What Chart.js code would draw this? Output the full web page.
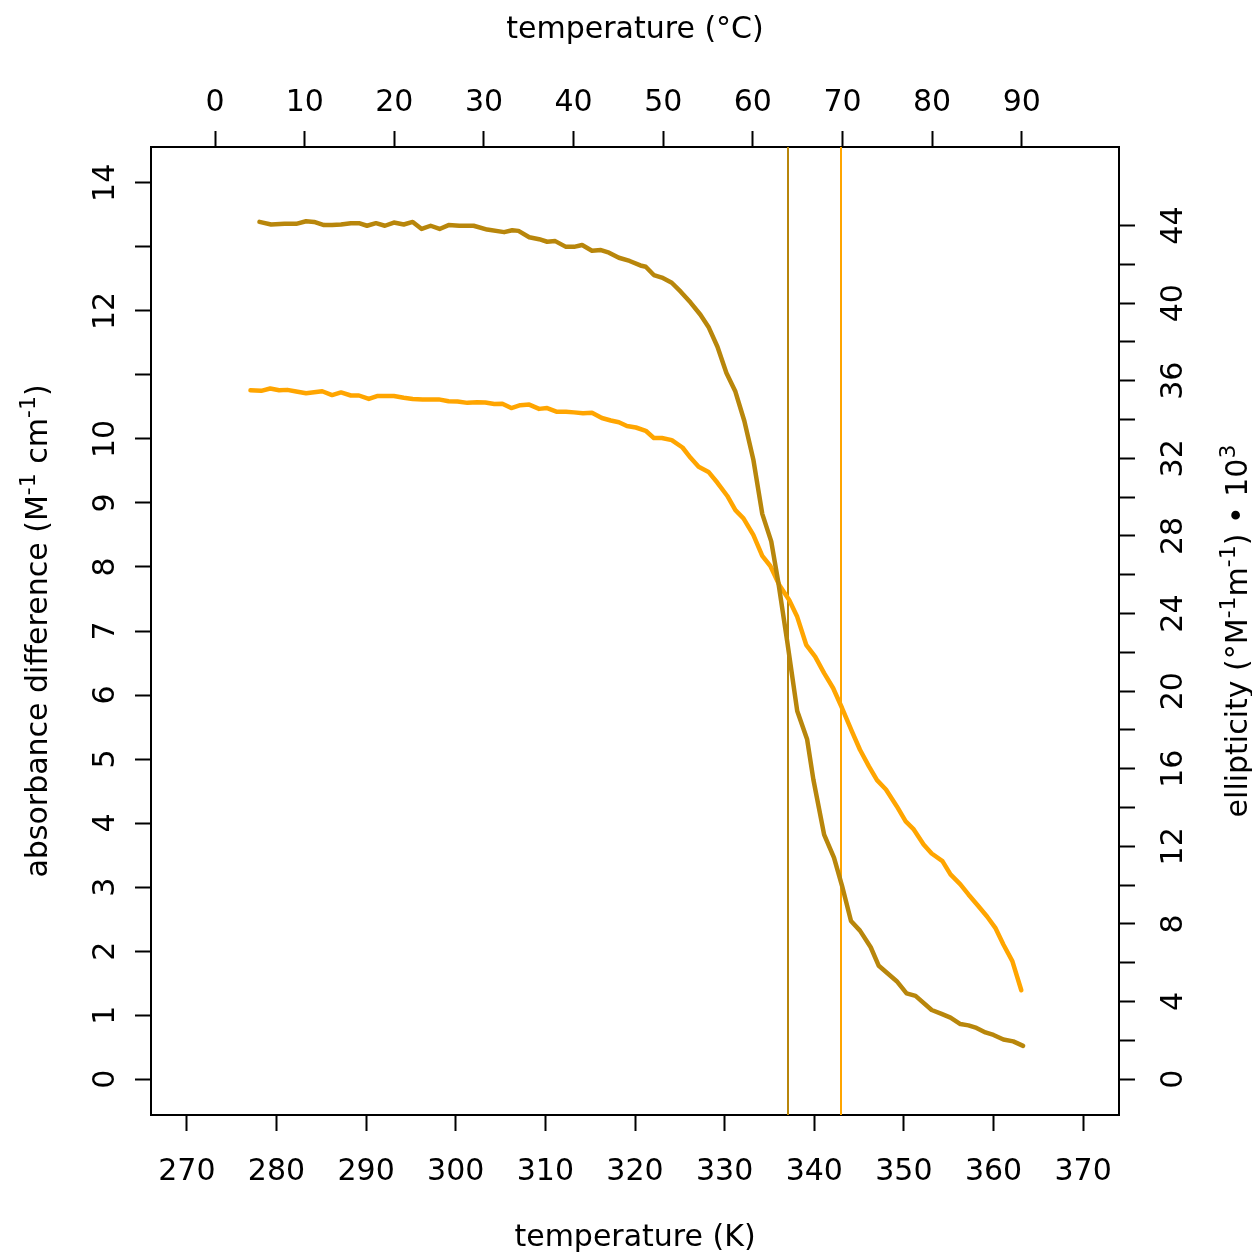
<!DOCTYPE html>
<html>
<head>
<meta charset="utf-8">
<script src="https://cdn.jsdelivr.net/npm/chart.js@4.4.1/dist/chart.umd.min.js"></script>
<style>
  html, body { margin: 0; padding: 0; background: #fff; }
  #chart { display: block; }
</style>
</head>
<body>
<canvas id="chart" width="1252" height="1253"></canvas>
<script>
// absorbance difference (left axis)
const absTemp = [278.1, 279.4, 280.9, 282.2, 283.3, 284.2, 285.3, 286.2, 287.2, 288.3, 289.2, 290.1, 291.1, 292.1, 293.1,
    294.2, 295.2, 296.2, 297.2, 298.2, 299.2, 300.4, 302.0, 303.5, 305.4, 306.3, 307.0, 308.2, 309.3, 310.2, 311.1, 312.3,
    313.2, 314.1, 315.2, 316.2, 317.1, 318.2, 319.4, 320.6, 321.2, 322.1, 323.0, 324.1, 325.1, 326.2, 327.3, 328.2, 329.2,
    330.2, 331.2, 332.2, 333.2, 334.2, 335.2, 336.0, 337.0, 338.1, 339.2, 339.9, 341.1, 342.2, 343.1, 344.1, 345.1, 346.3,
    347.2, 348.2, 349.2, 350.3, 351.3, 353.1, 354.2, 355.2, 356.3, 357.2, 358.1, 359.1, 360.0, 361.1, 362.2, 363.3];
const absValues = [13.39, 13.35, 13.36, 13.36, 13.40, 13.39, 13.34, 13.34, 13.35, 13.37, 13.37, 13.33, 13.37, 13.33, 13.38,
    13.35, 13.39, 13.28, 13.33, 13.28, 13.34, 13.33, 13.33, 13.27, 13.23, 13.26, 13.25, 13.15, 13.12, 13.08, 13.09, 13.00,
    13.00, 13.03, 12.94, 12.95, 12.91, 12.83, 12.78, 12.71, 12.69, 12.56, 12.52, 12.44, 12.30, 12.13, 11.94, 11.75, 11.44,
    11.03, 10.74, 10.28, 9.68, 8.83, 8.40, 7.75, 6.82, 5.75, 5.31, 4.68, 3.82, 3.46, 3.02, 2.47, 2.32, 2.06,
    1.77, 1.65, 1.53, 1.34, 1.30, 1.08, 1.02, 0.96, 0.86, 0.84, 0.80, 0.73, 0.69, 0.62, 0.59, 0.52];

// ellipticity (right axis)
const cdTemp = [277.1, 278.3, 279.3, 280.3, 281.2, 282.2, 283.3, 284.2, 285.1, 286.2, 287.2, 288.3, 289.2, 290.3, 291.3,
    293.1, 294.2, 295.2, 296.3, 298.1, 299.2, 300.2, 301.3, 302.4, 303.3, 304.3, 305.2, 306.2, 307.2, 308.2, 309.3, 310.2,
    311.3, 312.3, 313.2, 314.2, 315.2, 316.3, 317.3, 318.2, 319.1, 320.1, 321.2, 322.1, 323.0, 324.1, 325.3, 326.2, 327.1,
    328.2, 329.2, 330.3, 331.2, 332.1, 333.2, 334.2, 335.1, 336.1, 337.2, 338.1, 339.1, 340.1, 341.1, 342.1, 343.1, 344.2,
    345.1, 346.1, 347.0, 348.0, 349.2, 350.2, 351.1, 352.2, 353.1, 354.3, 355.2, 356.3, 357.2, 358.3, 359.3, 360.2, 361.1,
    362.1, 363.1];
const cdValues = [35.51, 35.48, 35.60, 35.51, 35.53, 35.45, 35.36, 35.41, 35.46, 35.26, 35.40, 35.24, 35.24, 35.06, 35.22,
    35.21, 35.12, 35.06, 35.03, 35.04, 34.94, 34.93, 34.86, 34.89, 34.88, 34.80, 34.82, 34.59, 34.74, 34.77, 34.55, 34.59,
    34.40, 34.40, 34.37, 34.33, 34.35, 34.08, 33.95, 33.86, 33.67, 33.59, 33.42, 33.05, 33.05, 32.94, 32.56, 32.03, 31.57,
    31.30, 30.74, 30.06, 29.33, 28.91, 28.05, 26.97, 26.45, 25.47, 24.70, 23.83, 22.39, 21.78, 20.93, 20.16, 19.13, 17.92,
    16.98, 16.12, 15.41, 14.93, 14.07, 13.29, 12.87, 12.10, 11.63, 11.24, 10.55, 10.04, 9.52, 8.92, 8.37, 7.80, 6.94,
    6.08, 4.58];

// melting temperatures (vertical marks)
const meltTemps = [337.1, 343.0];

const kelvinTicks = [270, 280, 290, 300, 310, 320, 330, 340, 350, 360, 370];
const celsiusTicks = [0, 10, 20, 30, 40, 50, 60, 70, 80, 90];
const absTicks = [0, 1, 2, 3, 4, 5, 6, 7, 8, 9, 10, 11, 12, 13, 14];
const absTickLabels = [0, 1, 2, 3, 4, 5, 6, 7, 8, 9, 10, 12, 14];
const cdTicks = [0, 2, 4, 6, 8, 10, 12, 14, 16, 18, 20, 22, 24, 26, 28, 30, 32, 34, 36, 38, 40, 42, 44];
const cdTickLabels = [0, 4, 8, 12, 16, 20, 24, 28, 32, 36, 40, 44];

const GOLD = '#B8860B';
const ORANGE = '#FFA500';
const FAMILY = '"DejaVu Sans", sans-serif';
const FS = 30;
const KELVIN = 273.15;

const zip = (xs, ys) => xs.map((x, i) => ({ x: x, y: ys[i] }));

function frameAxis(position, ticks, size, extra) {
    const horiz = position === 'top' || position === 'bottom';
    return Object.assign({
        type: 'linear',
        position: position,
        grid: { display: true, drawOnChartArea: false, drawTicks: true, tickLength: 16, tickWidth: 2, tickColor: '#000' },
        border: { display: true, color: '#000', width: 2 },
        ticks: { display: horiz, color: '#000', font: { family: FAMILY, size: FS }, autoSkip: false, maxRotation: 0, minRotation: 0,
                 padding: position === 'top' ? 10 : 23 },
        afterBuildTicks: axis => { axis.ticks = ticks.map(v => ({ value: v })); },
        afterFit: axis => { if (horiz) axis.height = size; else axis.width = size; }
    }, extra);
}

// text pieces, some of them superscript, drawn reading upwards
function drawRotated(ctx, pieces, bx, cy) {
    const sup = `${Math.round(FS * 0.72)}px ${FAMILY}`;
    const reg = `${FS}px ${FAMILY}`;
    let total = 0;
    pieces.forEach(p => { ctx.font = p.sup ? sup : reg; p.w = ctx.measureText(p.t).width; total += p.w; });
    ctx.save();
    ctx.translate(bx, cy);
    ctx.rotate(-Math.PI / 2);
    ctx.textAlign = 'left';
    ctx.textBaseline = 'alphabetic';
    let x = -total / 2;
    pieces.forEach(p => {
        ctx.font = p.sup ? sup : reg;
        ctx.fillText(p.t, x, p.sup ? -12 : 0);
        x += p.w;
    });
    ctx.restore();
}

const framePlugin = {
    id: 'framePlugin',
    beforeDatasetsDraw(chart) {
        const ctx = chart.ctx;
        const area = chart.chartArea;
        const xs = chart.scales.x;
        const colors = [GOLD, ORANGE];
        ctx.save();
        meltTemps.forEach((t, i) => {
            const px = Math.round(xs.getPixelForValue(t));
            ctx.beginPath();
            ctx.moveTo(px, area.top);
            ctx.lineTo(px, area.bottom);
            ctx.lineWidth = 2;
            ctx.strokeStyle = colors[i];
            ctx.stroke();
        });
        ctx.restore();
    },
    afterDraw(chart) {
        const ctx = chart.ctx;
        const area = chart.chartArea;
        const yl = chart.scales.y, yr = chart.scales.y2;
        ctx.save();
        ctx.fillStyle = '#000';
        absTickLabels.forEach(v => drawRotated(ctx, [{ t: String(v) }], area.left - 37, yl.getPixelForValue(v)));
        cdTickLabels.forEach(v => drawRotated(ctx, [{ t: String(v) }], area.right + 63, yr.getPixelForValue(v)));
        const midY = (area.top + area.bottom) / 2;
        drawRotated(ctx, [
            { t: 'absorbance difference (M' }, { t: '-1', sup: true }, { t: ' cm' }, { t: '-1', sup: true }, { t: ')' }
        ], 47, midY);
        drawRotated(ctx, [
            { t: 'ellipticity (\u00B0M' }, { t: '-1', sup: true }, { t: 'm' }, { t: '-1', sup: true },
            { t: ') \u2022 10' }, { t: '3', sup: true }
        ], 1247, midY);
        ctx.restore();
    }
};

new Chart(document.getElementById('chart'), {
    type: 'line',
    data: {
        datasets: [
            { data: zip(absTemp, absValues), xAxisID: 'x', yAxisID: 'y', borderColor: GOLD, borderWidth: 4.5,
              pointRadius: 0, tension: 0, borderJoinStyle: 'round', borderCapStyle: 'round' },
            { data: zip(cdTemp, cdValues), xAxisID: 'x', yAxisID: 'y2', borderColor: ORANGE, borderWidth: 4.5,
              pointRadius: 0, tension: 0, borderJoinStyle: 'round', borderCapStyle: 'round' }
        ]
    },
    options: {
        responsive: false,
        animation: false,
        events: [],
        layout: { padding: 0 },
        plugins: { legend: { display: false }, tooltip: { enabled: false } },
        scales: {
            x: frameAxis('bottom', kelvinTicks, 138, {
                min: 266, max: 374,
                title: { display: true, text: 'temperature (K)', color: '#000', font: { family: FAMILY, size: FS }, padding: { top: 0, bottom: -3 } }
            }),
            xTop: frameAxis('top', celsiusTicks, 147, {
                min: 266 - KELVIN, max: 374 - KELVIN,
                title: { display: true, text: 'temperature (\u00B0C)', color: '#000', font: { family: FAMILY, size: FS }, padding: { top: 12, bottom: 0 } }
            }),
            y: frameAxis('left', absTicks, 151, { min: -0.56, max: 14.56 }),
            y2: frameAxis('right', cdTicks, 133, { min: -1.85, max: 48.05 })
        }
    },
    plugins: [framePlugin]
});
</script>
</body>
</html>
